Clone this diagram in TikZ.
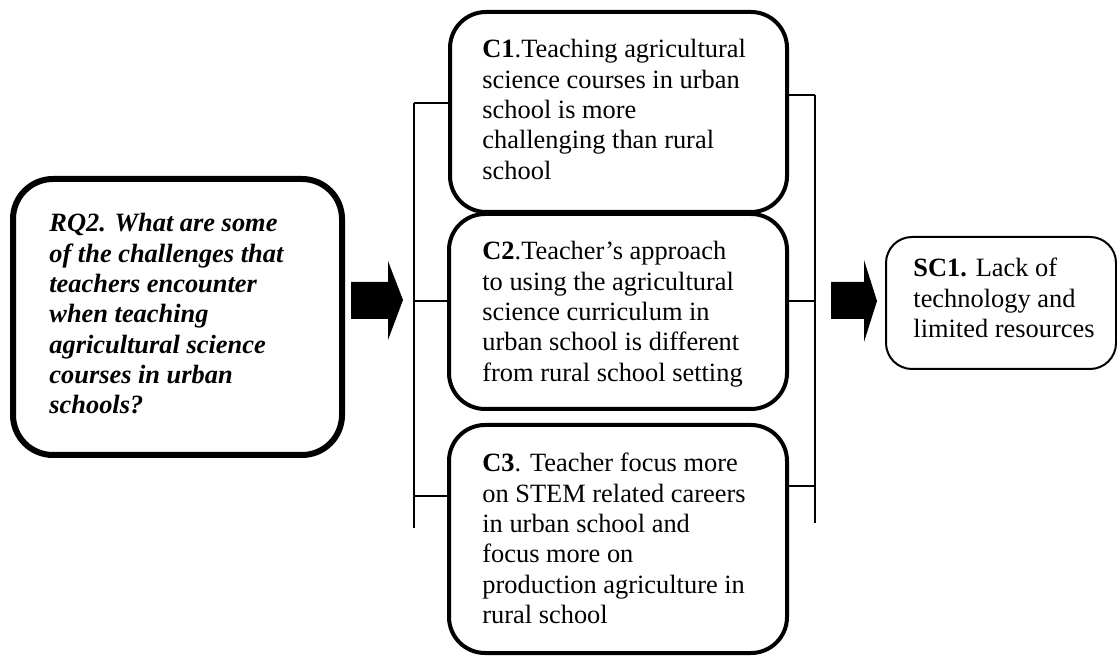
\documentclass[tikz,border=0pt]{standalone}
\usepackage{fontspec}
\setmainfont{Liberation Serif}
\usetikzlibrary{fit}
\newcommand{\boxtxt}[1]{\parbox[t]{240pt}{\raggedright\fontsize{13.2pt}{15.15pt}\selectfont #1}}
\begin{document}
\begin{tikzpicture}[x=0.5pt,y=-0.5pt,
  qbox/.style={draw,line width=3pt,rounded corners=20pt,inner sep=0pt},
  cbox/.style={draw,line width=2pt,rounded corners=18pt,inner sep=0pt},
  sbox/.style={draw,line width=1pt,rounded corners=13pt,inner sep=0pt},
  txt/.style={anchor=base west,inner sep=0pt},
  link/.style={draw,line width=0.75pt},
  blockarrow/.style={fill=black}]
\useasboundingbox (0,0) rectangle (1117,656);
% boxes
\node[qbox,fit={(13,179)(342,455)}] (rq) {};
\node[cbox,fit={(450,12)(787,212)}] (c1) {};
\node[cbox,fit={(449,214)(787,409)}] (c2) {};
\node[cbox,fit={(449,425)(787,653)}] (c3) {};
\node[sbox,fit={(886,237)(1116,369)}] (sc) {};
% texts
\node[txt] (trq) at (49,232) {\boxtxt{\bfseries\itshape RQ2. What are some\\of the challenges that\\teachers encounter\\when teaching\\agricultural science\\courses in urban\\schools?}};
\node[txt] (tc1) at (482,58) {\boxtxt{\textbf{C1}.Teaching agricultural\\science courses in urban\\school is more\\challenging than rural\\school}};
\node[txt] (tc2) at (482,260) {\boxtxt{\textbf{C2}.Teacher’s approach\\to using the agricultural\\science curriculum in\\urban school is different\\from rural school setting}};
\node[txt] (tc3) at (482,472) {\boxtxt{\textbf{C3}. Teacher focus more\\on STEM related careers\\in urban school and\\focus more on\\production agriculture in\\rural school}};
\node[txt] (tsc) at (913,277) {\boxtxt{\textbf{SC1.} Lack of\\technology and\\limited resources}};
% left bracket
\coordinate (lt) at (414,103);
\coordinate (lm) at (414,301);
\coordinate (lk) at (414,496);
\coordinate (lb) at (414,528);
\draw[link] (lt) -- (lb);
\draw[link] (lt) -- (lt -| c1.west);
\draw[link] (lm) -- (lm -| c2.west);
\draw[link] (lk) -- (lk -| c3.west);
% right bracket
\coordinate (rt) at (815,95);
\coordinate (rm) at (815,301);
\coordinate (rk) at (815,486);
\coordinate (rb) at (815,523);
\draw[link] (rt) -- (rb);
\draw[link] (rt -| c1.east) -- (rt);
\draw[link] (rm -| c2.east) -- (rm);
\draw[link] (rk -| c3.east) -- (rk);
% block arrows
\fill[blockarrow] (351,282) -- (388,282) -- (388,261) -- (403,300) -- (388,340) -- (388,319) -- (351,319) -- cycle;
\fill[blockarrow] (831,282) -- (864,282) -- (864,260) -- (877,301) -- (864,342) -- (864,319) -- (831,319) -- cycle;
\end{tikzpicture}
\end{document}
